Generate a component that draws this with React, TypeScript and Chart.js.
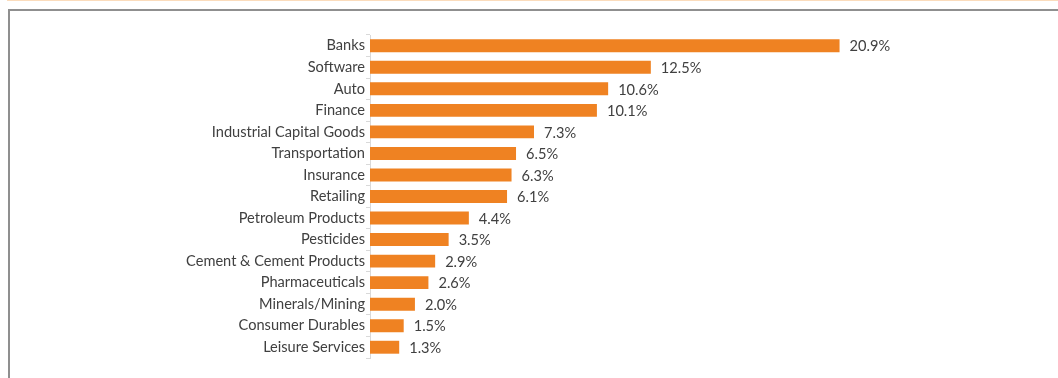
import React, { useEffect, useRef } from "react";
import { Chart, registerables } from "chart.js";

Chart.register(...registerables);

const categories = [
  "Banks",
  "Software",
  "Auto",
  "Finance",
  "Industrial Capital Goods",
  "Transportation",
  "Insurance",
  "Retailing",
  "Petroleum Products",
  "Pesticides",
  "Cement & Cement Products",
  "Pharmaceuticals",
  "Minerals/Mining",
  "Consumer Durables",
  "Leisure Services",
];

const weights = [20.9, 12.5, 10.6, 10.1, 7.3, 6.5, 6.3, 6.1, 4.4, 3.5, 2.9, 2.6, 2.0, 1.5, 1.3];

const FONT = "Lato";
const FSIZE = 14.6;
const TEXT = "#404040";
const BAR = "#ef8222";

const valueLabels = {
  id: "valueLabels",
  afterDatasetsDraw(chart: any) {
    const ctx = chart.ctx;
    const meta = chart.getDatasetMeta(0);
    ctx.save();
    ctx.font = `${FSIZE}px ${FONT}`;
    ctx.fillStyle = TEXT;
    ctx.textAlign = "left";
    ctx.textBaseline = "middle";
    meta.data.forEach((el: any, i: number) => {
      const v = chart.data.datasets[0].data[i] as number;
      ctx.fillText(v.toFixed(1) + "%", el.x + 10, el.y + 1);
    });
    ctx.restore();
  },
};

export default function App() {
  const ref = useRef<HTMLCanvasElement>(null);
  useEffect(() => {
    document.body.style.margin = "0";
    const chart = new Chart(ref.current!, {
      type: "bar",
      data: {
        labels: categories,
        datasets: [
          {
            data: weights,
            backgroundColor: BAR,
            borderWidth: 0,
            barPercentage: 0.6,
            categoryPercentage: 1,
          },
        ],
      },
      options: {
        indexAxis: "y",
        animation: false,
        responsive: false,
        maintainAspectRatio: false,
        layout: { padding: { top: 35, bottom: 20, left: 0, right: 14 } },
        plugins: { legend: { display: false }, tooltip: { enabled: false } },
        scales: {
          x: { display: false, min: 0, max: 30 },
          y: {
            offset: true,
            afterFit(scale: any) {
              scale.width = 370;
            },
            border: { display: true, color: "#d9d9d9", width: 1 },
            grid: {
              offset: true,
              drawOnChartArea: false,
              drawTicks: true,
              tickLength: 4,
              color: "#d9d9d9",
            },
            ticks: {
              padding: 1,
              color: TEXT,
              font: { family: FONT, size: FSIZE },
            },
          },
        },
      },
      plugins: [valueLabels],
    });
    return () => chart.destroy();
  }, []);

  return (
    <div style={{ position: "relative", width: 1058, height: 378, background: "#fff", overflow: "hidden" }}>
      <div style={{ position: "absolute", left: 7, top: 0, width: 1051, height: 1, background: "#fbdcbc" }} />
      <div
        style={{
          position: "absolute",
          left: 8,
          top: 9,
          width: 1050,
          height: 369,
          borderTop: "2px solid #8f8f8f",
          borderLeft: "2px solid #8f8f8f",
          boxSizing: "border-box",
        }}
      />
      <canvas ref={ref} width={1058} height={378} style={{ position: "absolute", left: 0, top: 0 }} />
    </div>
  );
}
